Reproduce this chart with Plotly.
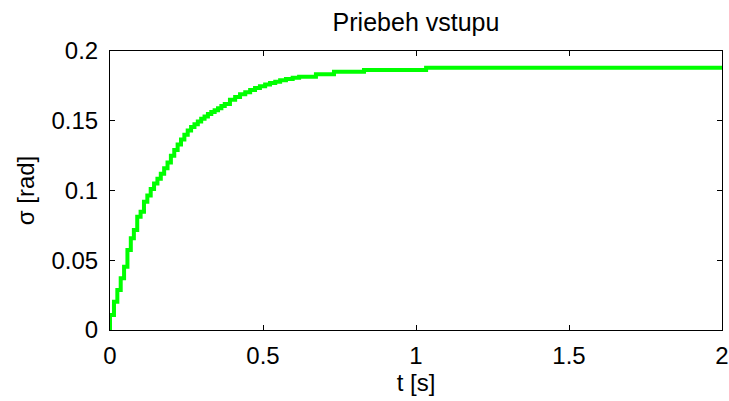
import plotly.graph_objects as go

# step change points (time [s], sigma [rad])
t_vals = [0.0, 0.0, 0.013, 0.024, 0.035, 0.046, 0.057, 0.068, 0.078, 0.089, 0.100,
          0.111, 0.122, 0.133, 0.144, 0.155, 0.166, 0.177, 0.188, 0.199, 0.210,
          0.221, 0.232, 0.243, 0.254, 0.265, 0.276, 0.287, 0.298, 0.309, 0.320,
          0.331, 0.342, 0.353, 0.364, 0.375, 0.392, 0.409, 0.425, 0.442, 0.458,
          0.474, 0.490, 0.507, 0.523, 0.540, 0.556, 0.575, 0.597, 0.618, 0.673,
          0.732, 0.830, 1.033, 2.0]
sigma_vals = [0.0, 0.0108, 0.0203, 0.0287, 0.0371, 0.0454, 0.0573, 0.0657, 0.0717,
              0.0812, 0.0848, 0.0920, 0.0965, 0.1010, 0.1050, 0.1085, 0.1120, 0.1160,
              0.1200, 0.1250, 0.1290, 0.1330, 0.1365, 0.1400, 0.1430, 0.1455, 0.1475,
              0.1495, 0.1515, 0.1530, 0.1548, 0.1562, 0.1575, 0.1590, 0.1605, 0.1620,
              0.1650, 0.1670, 0.1690, 0.1705, 0.1720, 0.1735, 0.1748, 0.1760, 0.1770,
              0.1780, 0.1790, 0.1800, 0.1808, 0.1816, 0.1833, 0.1852, 0.1864, 0.1880,
              0.1880]

x_ticks = [0, 0.5, 1, 1.5, 2]
x_tick_labels = ["0", "0.5", "1", "1.5", "2"]
y_ticks = [0, 0.05, 0.1, 0.15, 0.2]
y_tick_labels = ["0", "0.05", "0.1", "0.15", "0.2"]

font_family = "Liberation Sans, Arial, sans-serif"

fig = go.Figure()
fig.add_trace(go.Scatter(x=t_vals, y=sigma_vals, mode="lines",
                         line=dict(color="#00ff00", width=4, shape="hv"),
                         showlegend=False))

axis_common = dict(showline=True, linecolor="black", linewidth=1, mirror="ticks",
                   ticks="inside", ticklen=5, tickcolor="black", showgrid=False,
                   zeroline=False, automargin=False,
                   tickfont=dict(size=24, color="black", family=font_family))

fig.update_layout(
    width=729, height=401,
    margin=dict(l=110, r=7, t=51, b=71),
    paper_bgcolor="white", plot_bgcolor="white",
    font=dict(family=font_family, color="black"),
    title=dict(text="Priebeh vstupu", x=0.5, xanchor="center", xref="paper",
               yref="container", y=0.945, yanchor="middle", automargin=False,
               font=dict(size=25, color="black")),
    xaxis=dict(range=[0, 2], tickvals=x_ticks, ticktext=x_tick_labels,
               ticklabelstandoff=4,
               title=dict(text="t [s]", font=dict(size=24), standoff=4), **axis_common),
    yaxis=dict(range=[0, 0.2], tickvals=y_ticks, ticktext=y_tick_labels,
               ticklabelstandoff=6,
               title=dict(text="σ [rad]", font=dict(size=24), standoff=10), **axis_common),
)

fig.write_html("out.html")
